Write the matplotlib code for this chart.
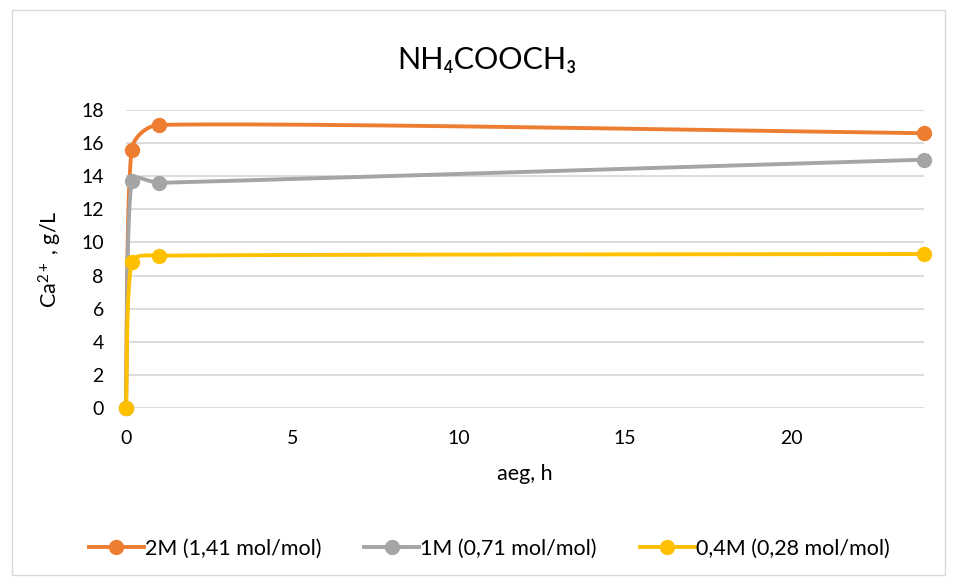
import numpy as np
import matplotlib
matplotlib.use("Agg")
import matplotlib.pyplot as plt
from matplotlib.patches import Rectangle

plt.rcParams['font.family'] = ['Lato', 'DejaVu Sans']
plt.rcParams['mathtext.fontset'] = 'custom'
plt.rcParams['mathtext.rm'] = 'Lato'
plt.rcParams['mathtext.it'] = 'Lato:italic'
plt.rcParams['mathtext.bf'] = 'Lato:bold'

# Sampling times (h) and Ca2+ concentrations (g/L)
time_h = [0, 0.17, 1, 24]
series_labels = ["2M (1,41 mol/mol)", "1M (0,71 mol/mol)", "0,4M (0,28 mol/mol)"]
ca_2m = [0, 15.6, 17.1, 16.6]
ca_1m = [0, 13.7, 13.6, 15.0]
ca_04m = [0, 8.8, 9.2, 9.3]
colors = ["#ED7D31", "#A5A5A5", "#FFC000"]

x_ticks = [0, 5, 10, 15, 20]
y_ticks = list(range(0, 19, 2))


def smooth_display(ax, x, y, n=80):
    """Bezier smoothing through the points, computed in screen space so
    that the very different x/y scales do not distort the curve."""
    P = ax.transData.transform(np.column_stack([x, y]).astype(float))
    m = len(P)
    tang = []
    for i in range(m):
        a = P[i - 1] if i > 0 else P[i]
        b = P[i + 1] if i < m - 1 else P[i]
        tang.append((b - a) / 6.0)
    out = [P[:1]]
    for i in range(m - 1):
        p1, p2 = P[i], P[i + 1]
        seg = np.linalg.norm(p2 - p1)
        cap = seg / 3.0
        t1, t2 = tang[i], tang[i + 1]
        n1, n2 = np.linalg.norm(t1), np.linalg.norm(t2)
        if n1 > cap and n1 > 0:
            t1 = t1 * cap / n1
        if n2 > cap and n2 > 0:
            t2 = t2 * cap / n2
        c1 = p1 + t1
        c2 = p2 - t2
        t = np.linspace(0, 1, n)[1:, None]
        pts = ((1 - t) ** 3) * p1 + 3 * ((1 - t) ** 2) * t * c1 \
            + 3 * (1 - t) * t ** 2 * c2 + t ** 3 * p2
        out.append(pts)
    S = ax.transData.inverted().transform(np.vstack(out))
    return S[:, 0], S[:, 1]


fig = plt.figure(figsize=(9.55, 5.8), dpi=100)
W, H = 955, 580
ax = fig.add_axes([126 / W, 1 - 408 / H, (924 - 126) / W, (408 - 110) / H])
ax.set_xlim(0, 24)
ax.set_ylim(0, 18)

# outer chart border
fig.patches.append(Rectangle((12 / W, 5 / H), (945 - 12) / W, (570 - 5) / H,
                             transform=fig.transFigure, fill=False,
                             edgecolor="#D9D9D9", linewidth=1.0))

lw, ms = 2.8, 10
for vals, lab, c in zip([ca_2m, ca_1m, ca_04m], series_labels, colors):
    sx, sy = smooth_display(ax, time_h, vals)
    ax.plot(sx, sy, color=c, lw=lw, solid_capstyle="round",
            solid_joinstyle="round", zorder=3, clip_on=False)
    ax.plot(time_h, vals, "o", color=c, ms=ms, zorder=4, clip_on=False)
    ax.plot([], [], "-o", color=c, lw=lw, ms=ms, label=lab)

ax.set_xticks(x_ticks)
ax.set_yticks(y_ticks)
ax.grid(axis="y", color="#D9D9D9", lw=1.3)
ax.set_axisbelow(True)
for s in ax.spines.values():
    s.set_visible(False)
ax.tick_params(length=0, labelsize=14, colors="#000000", pad=16)

ax.set_xlabel("aeg, h", fontsize=15.5, labelpad=12)
ax.set_ylabel(r"Ca$^{\mathrm{2+}}$ , g/L", fontsize=15.5, labelpad=12)
fig.text(487 / W, 1 - 60 / H, "NH₄COOCH₃", ha="center", va="center", fontsize=22)

ax.legend(loc="center", bbox_to_anchor=(489 / W, 1 - 549 / H),
          bbox_transform=fig.transFigure, ncol=3, frameon=False,
          fontsize=15.5, handlelength=2.55, columnspacing=2.0, handletextpad=0.05)

fig.savefig("out.png", dpi=100)
